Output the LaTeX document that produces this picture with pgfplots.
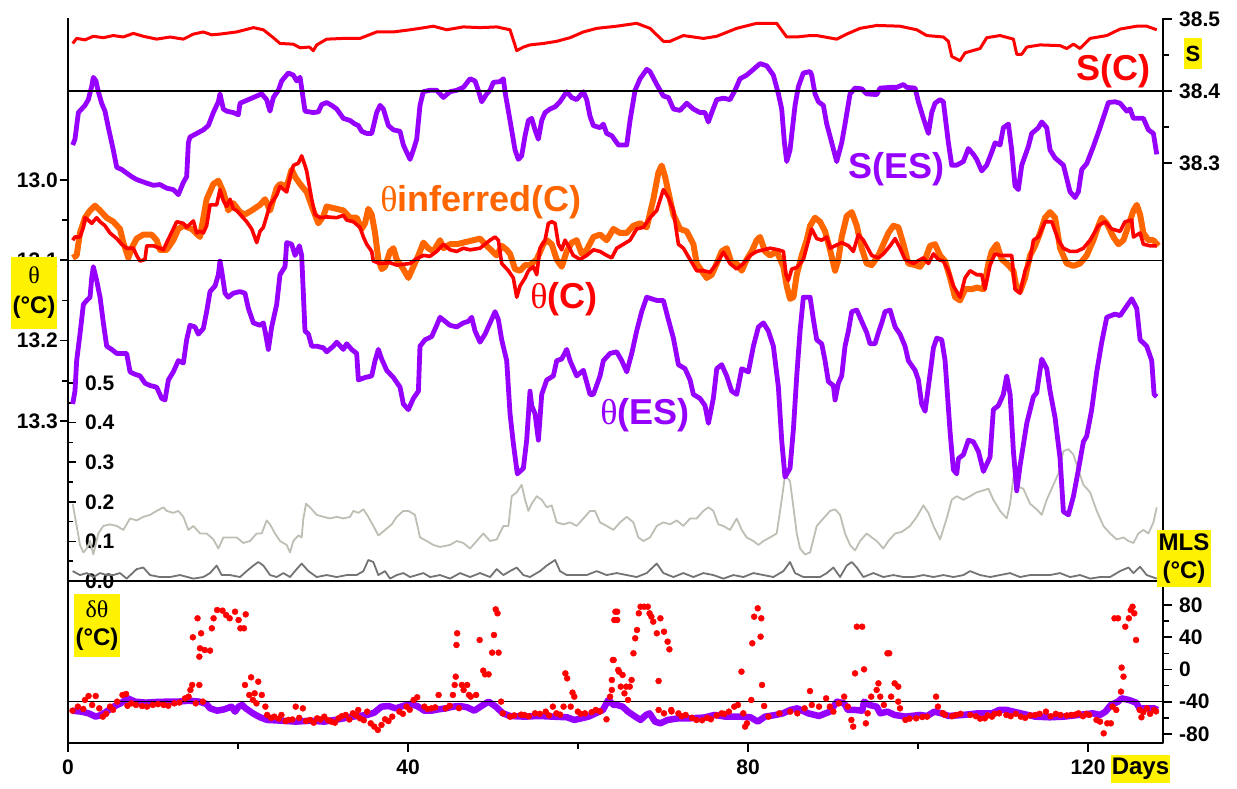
\documentclass[border=0pt]{standalone}
\usepackage{fontspec}
\setmainfont{Liberation Sans}
\newfontfamily\grk{Liberation Serif}
\usepackage{pgfplots}
\pgfplotsset{compat=1.18}
\definecolor{cred}{RGB}{255,0,0}
\definecolor{cpur}{RGB}{150,0,255}
\definecolor{corg}{RGB}{255,102,0}
\definecolor{clgray}{RGB}{190,190,180}
\definecolor{cdgray}{RGB}{115,115,115}
\begin{document}
\begin{tikzpicture}
\useasboundingbox (0,0) rectangle (1237pt,789pt);
\pgfplotsset{
  every non boxed x axis/.style={},
  every non boxed y axis/.style={},
  base/.style={scale only axis, width=1095pt, xmin=0, xmax=128.82,
    tick label style={font=\bfseries\fontsize{21}{21}\selectfont},
    axis line style={-, line width=2pt, black},
    every tick/.style={line width=1.6pt, black},
    every minor tick/.style={line width=1.6pt, black},
    line join=round},
}
% ---------------- MLS axis
\begin{axis}[base, at={(68pt,208pt)}, anchor=south west, height=563pt,
  axis x line=none, axis y line=left, y axis line style={-},
  ymin=0, ymax=1.4217,
  ytick={0,0.1,0.2,0.3,0.4,0.5}, yticklabels={0.0,0.1,0.2,0.3,0.4,0.5},
  minor ytick={0.05,0.15,0.25,0.35,0.45},
  tick align=inside, major tick length=8pt, minor tick length=5pt,
  yticklabel style={anchor=west, inner sep=0pt, xshift=17pt}]
\addplot[clgray, line width=1.8pt] coordinates {
(0.55,0.195) (1.02,0.139) (1.41,0.091) (1.81,0.072) (2.20,0.082) (2.59,0.101) (2.98,0.067) (3.57,0.120) (4.16,0.139) (4.94,0.143) (5.73,0.139) (6.51,0.129) (7.30,0.158) (8.08,0.153) (8.86,0.162) (9.65,0.167) (10.43,0.177) (11.22,0.186) (11.61,0.177) (12.39,0.172) (12.98,0.177) (13.57,0.162) (14.16,0.129) (14.75,0.139) (15.53,0.120) (16.31,0.120) (17.10,0.105) (17.69,0.082) (18.28,0.110) (19.06,0.110) (19.84,0.110) (20.63,0.096) (21.41,0.101) (22.20,0.120) (22.79,0.120) (23.37,0.153) (23.77,0.143) (24.35,0.120) (24.94,0.101) (25.73,0.091) (26.12,0.072) (26.51,0.101) (27.10,0.115) (27.49,0.110) (27.69,0.158) (28.00,0.195) (28.47,0.186) (29.26,0.167) (30.04,0.162) (30.82,0.158) (31.61,0.162) (32.39,0.158) (33.18,0.162) (33.57,0.177) (34.16,0.172) (34.75,0.181) (35.33,0.162) (35.92,0.139) (36.51,0.115) (37.30,0.129) (38.08,0.143) (38.67,0.162) (39.45,0.177) (40.04,0.177) (40.82,0.167) (41.41,0.110) (42.20,0.101) (42.98,0.091) (43.77,0.086)
(44.94,0.091) (45.73,0.101) (46.51,0.096) (47.30,0.082) (48.08,0.101) (48.86,0.120) (49.65,0.101) (50.43,0.105) (51.22,0.139) (51.81,0.139) (52.20,0.214) (52.79,0.224) (53.37,0.243) (53.77,0.205) (54.16,0.177) (54.55,0.195) (55.14,0.214) (55.73,0.205) (56.32,0.186) (56.90,0.191) (57.49,0.148) (58.28,0.143) (59.06,0.148) (59.84,0.139) (60.63,0.158) (61.41,0.177) (62.00,0.177) (62.59,0.148) (63.37,0.139) (64.16,0.129) (64.94,0.148) (65.73,0.162) (66.51,0.148) (67.10,0.110) (67.69,0.101) (68.47,0.110) (69.26,0.139) (70.04,0.148) (70.82,0.143) (71.61,0.153) (72.39,0.139) (73.18,0.158) (73.96,0.158) (74.75,0.177) (75.34,0.186) (75.92,0.177) (76.51,0.143) (77.10,0.139) (77.88,0.129) (78.67,0.158) (79.26,0.129) (79.84,0.110) (80.63,0.101) (81.22,0.091) (81.81,0.101) (82.59,0.110) (83.37,0.120) (83.96,0.205) (84.35,0.267) (84.94,0.252) (85.34,0.186) (85.73,0.120) (86.12,0.082) (86.71,0.067) (87.30,0.072)
(88.08,0.139) (88.86,0.158) (89.65,0.177) (90.24,0.181) (90.83,0.167) (91.41,0.120) (92.00,0.091) (92.59,0.077) (93.18,0.101) (93.96,0.120) (94.55,0.110) (95.14,0.101) (95.92,0.082) (96.51,0.101) (97.30,0.120) (98.08,0.124) (99.06,0.139) (99.85,0.162) (100.63,0.191) (101.22,0.172) (101.81,0.139) (102.59,0.105) (103.37,0.158) (103.96,0.205) (104.55,0.214) (105.34,0.205) (106.12,0.214) (106.90,0.224) (107.69,0.229) (108.28,0.233) (108.86,0.205) (109.65,0.177) (110.43,0.158) (110.83,0.195) (111.22,0.262) (111.80,0.238) (112.39,0.233) (113.18,0.195) (113.96,0.181) (114.55,0.167) (115.14,0.205) (115.92,0.243) (116.51,0.271) (117.10,0.328) (117.69,0.333) (118.28,0.319) (118.86,0.281) (119.45,0.243) (120.24,0.224) (121.02,0.177) (121.81,0.139) (122.59,0.120) (123.37,0.105) (124.16,0.110) (124.75,0.101) (125.34,0.096) (125.92,0.120) (126.51,0.129) (127.10,0.120) (127.69,0.148) (128.08,0.186)};
\addplot[cdgray, line width=1.8pt] coordinates {
(0.55,0.025) (1.41,0.015) (2.20,0.020) (2.98,0.010) (3.77,0.020) (4.55,0.015) (5.33,0.015) (6.12,0.020) (6.90,0.006) (8.08,0.030) (8.86,0.034) (9.65,0.015) (10.82,0.010) (12.00,0.010) (13.18,0.015) (14.75,0.006) (15.92,0.010) (16.71,0.020) (17.49,0.039) (18.08,0.015) (19.06,0.015) (20.24,0.010) (21.02,0.025) (21.81,0.039) (22.39,0.048) (22.98,0.039) (23.77,0.015) (24.55,0.010) (25.33,0.020) (26.12,0.010) (26.90,0.030) (27.49,0.044) (28.28,0.025) (29.26,0.010) (30.43,0.015) (31.61,0.010) (32.79,0.015) (33.96,0.015) (34.75,0.025) (35.33,0.053) (35.92,0.048) (36.51,0.015) (37.30,0.025) (37.88,0.006) (38.67,0.015) (39.45,0.020) (40.24,0.010) (41.02,0.015) (41.81,0.020) (42.59,0.010) (43.77,0.015)
(44.94,0.006) (46.12,0.020) (47.30,0.010) (48.47,0.020) (49.65,0.010) (50.43,0.030) (51.22,0.015) (52.00,0.025) (52.79,0.034) (53.57,0.015) (54.35,0.010) (55.53,0.025) (56.32,0.039) (57.30,0.053) (57.88,0.025) (58.67,0.015) (59.84,0.015) (61.02,0.015) (62.20,0.025) (63.37,0.015) (64.55,0.020) (65.73,0.015) (66.90,0.010) (68.08,0.020) (69.26,0.044) (70.04,0.020) (71.22,0.010) (72.39,0.020) (73.57,0.010) (74.75,0.020) (75.92,0.015) (77.10,0.006) (78.28,0.015) (79.45,0.010) (80.63,0.020) (81.81,0.015) (82.98,0.010) (84.16,0.025) (84.94,0.048) (85.53,0.020) (86.51,0.010)
(88.47,0.010) (89.26,0.020) (90.04,0.034) (90.83,0.010) (91.61,0.039) (92.20,0.048) (92.79,0.034) (93.57,0.010) (94.75,0.020) (95.92,0.010) (97.10,0.015) (98.28,0.010) (99.45,0.010) (100.63,0.015) (101.81,0.010) (102.98,0.015) (104.16,0.010) (105.34,0.015) (106.12,0.025) (107.30,0.015) (108.47,0.010) (109.65,0.015) (110.83,0.020) (112.00,0.010) (113.18,0.015) (114.36,0.015) (115.53,0.015) (116.71,0.020) (117.88,0.010) (119.06,0.015) (120.24,0.006) (121.41,0.010) (122.59,0.010) (123.77,0.025) (124.75,0.034) (125.34,0.020) (126.12,0.036) (126.90,0.015) (128.08,0.006)};
\end{axis}
% ---------------- theta axis
\begin{axis}[base, at={(68pt,208pt)}, anchor=south west, height=563pt,
  axis x line=none, axis y line=left, y axis line style={-},
  y dir=reverse, ymin=12.7983, ymax=13.4994,
  ytick={13.0,13.1,13.2,13.3}, yticklabels={13.0,13.1,13.2,13.3},
  minor ytick={13.05,13.15,13.25},
  tick align=outside, major tick length=8pt, minor tick length=6pt,
  yticklabel style={anchor=east, inner sep=0pt, xshift=-2pt}]
\addplot[corg, line width=6pt] coordinates {
(0.55,13.097) (1.02,13.094) (1.41,13.066) (2.00,13.047) (2.59,13.038) (3.18,13.032) (3.77,13.038) (4.55,13.047) (5.33,13.052) (6.12,13.061) (6.51,13.078) (7.10,13.097) (7.49,13.085) (8.08,13.073) (8.86,13.068) (9.84,13.068) (10.43,13.075) (10.82,13.087) (11.61,13.087) (12.39,13.075) (12.98,13.061) (13.57,13.057) (14.55,13.061) (15.53,13.071) (16.31,13.024) (17.10,13.005) (17.69,13.001) (18.28,13.015) (18.86,13.038) (19.45,13.029) (20.24,13.040) (20.82,13.043) (21.61,13.038) (22.59,13.031) (23.18,13.024) (23.77,13.038) (24.55,13.010) (24.94,13.005) (25.73,13.008) (26.31,12.987) (26.71,12.996) (27.30,13.005) (28.08,13.015) (28.86,13.038) (29.45,13.054) (30.04,13.045) (30.43,13.033) (31.61,13.036) (32.39,13.038) (33.18,13.047) (33.96,13.047) (34.55,13.061) (34.94,13.054) (35.33,13.036) (35.73,13.043) (36.12,13.066) (36.51,13.099) (36.90,13.111) (37.30,13.108) (37.88,13.089) (38.28,13.085) (38.67,13.099) (39.45,13.111) (40.04,13.122) (40.63,13.108) (41.22,13.094) (41.81,13.078) (42.39,13.085) (42.98,13.089) (43.77,13.075)
(44.16,13.085) (44.94,13.080) (45.73,13.080) (46.51,13.078) (47.69,13.075) (48.47,13.073) (49.26,13.082) (50.43,13.094) (51.02,13.082) (51.61,13.087) (52.00,13.092) (52.59,13.111) (53.18,13.113) (53.77,13.106) (54.35,13.106) (55.14,13.099) (55.92,13.080) (56.32,13.075) (56.90,13.080) (57.49,13.099) (58.08,13.108) (58.67,13.089) (59.26,13.078) (59.84,13.075) (60.43,13.092) (61.02,13.087) (61.81,13.071) (62.59,13.068) (63.37,13.075) (64.16,13.061) (64.94,13.066) (65.73,13.066) (66.51,13.057) (67.30,13.054) (68.08,13.059) (68.86,13.024) (69.45,12.991) (69.84,12.982) (70.24,12.996) (70.63,13.015) (71.22,13.043) (72.00,13.061) (72.79,13.064) (73.57,13.080) (73.96,13.104) (74.55,13.113) (75.14,13.122) (75.73,13.118) (76.32,13.104) (76.90,13.089) (77.49,13.085) (78.08,13.104) (78.67,13.104) (79.26,13.113) (79.84,13.099) (80.43,13.089) (81.02,13.075) (81.41,13.071) (82.00,13.089) (82.59,13.094) (83.37,13.089) (84.16,13.108) (84.55,13.132) (84.94,13.148) (85.34,13.146) (85.73,13.118) (86.32,13.094) (86.90,13.075)
(87.30,13.057) (87.88,13.047) (88.47,13.052) (89.06,13.064) (89.65,13.087) (90.24,13.113) (90.63,13.099) (91.02,13.071) (91.61,13.045) (92.20,13.040) (92.79,13.057) (93.37,13.085) (93.96,13.104) (94.55,13.106) (95.34,13.094) (95.92,13.080) (96.51,13.066) (97.10,13.057) (97.69,13.059) (98.28,13.080) (98.86,13.104) (99.65,13.106) (100.24,13.108) (100.83,13.099) (101.41,13.082) (102.00,13.080) (102.59,13.094) (103.18,13.101) (103.77,13.122) (104.36,13.146) (104.94,13.150) (105.53,13.136) (106.32,13.136) (106.90,13.134) (107.69,13.136) (108.28,13.104) (108.67,13.089) (109.26,13.080) (109.85,13.099) (110.43,13.104) (111.22,13.113) (111.61,13.136) (112.00,13.139) (112.59,13.122) (113.18,13.094) (113.77,13.082) (114.36,13.066) (114.94,13.047) (115.53,13.040) (116.12,13.047) (116.71,13.085) (117.49,13.104) (118.28,13.107) (119.06,13.104) (119.84,13.094) (120.63,13.075) (121.22,13.057) (121.61,13.047) (122.20,13.054) (122.98,13.071) (123.57,13.080) (124.16,13.075) (124.75,13.057) (125.34,13.038) (125.73,13.031) (126.12,13.043) (126.51,13.066) (127.10,13.075) (127.69,13.075) (128.28,13.082)};
\addplot[cred, line width=3.6pt] coordinates {
(0.55,13.075) (0.82,13.071) (1.41,13.071) (1.81,13.059) (2.00,13.047) (2.39,13.050) (2.79,13.054) (3.37,13.047) (3.77,13.052) (4.35,13.057) (4.94,13.066) (5.73,13.073) (6.31,13.080) (6.90,13.085) (7.69,13.085) (8.08,13.094) (8.47,13.101) (9.06,13.099) (9.26,13.082) (10.04,13.082) (10.82,13.085) (11.22,13.087) (11.61,13.078) (12.39,13.061) (12.79,13.052) (13.57,13.054) (13.96,13.059) (14.75,13.051) (15.14,13.066) (15.53,13.064) (15.92,13.066) (16.31,13.057) (16.71,13.031) (17.49,13.031) (17.88,13.012) (18.28,13.026) (18.67,13.033) (19.06,13.024) (19.45,13.036) (19.84,13.038) (20.43,13.045) (21.02,13.052) (21.61,13.061) (22.20,13.078) (22.59,13.064) (22.98,13.059) (23.77,13.031) (24.55,13.019) (24.94,13.008) (25.73,13.015) (26.12,12.996) (26.51,12.982) (27.10,12.979) (27.49,12.970) (27.88,12.982) (28.08,12.989) (28.28,13.001) (28.67,13.024) (29.06,13.043) (29.65,13.047) (30.43,13.046) (31.61,13.047) (32.39,13.044) (32.79,13.050) (33.57,13.052) (34.35,13.059) (34.75,13.071) (35.14,13.080) (35.73,13.089) (35.92,13.101) (36.71,13.104) (37.88,13.103) (38.67,13.106) (40.24,13.104) (41.02,13.098) (41.81,13.094) (42.59,13.095) (43.37,13.089)
(44.16,13.080) (44.94,13.087) (45.73,13.089) (46.51,13.085) (47.30,13.087) (48.47,13.085) (49.06,13.080) (49.65,13.075) (50.24,13.071) (50.63,13.075) (51.02,13.104) (51.81,13.113) (52.39,13.122) (52.79,13.146) (53.18,13.132) (53.77,13.122) (54.16,13.113) (54.75,13.108) (55.14,13.118) (55.53,13.085) (56.12,13.075) (56.51,13.054) (56.90,13.052) (57.30,13.054) (57.69,13.080) (58.08,13.087) (58.47,13.075) (58.86,13.082) (59.45,13.094) (60.24,13.099) (61.02,13.094) (61.81,13.087) (62.59,13.089) (63.37,13.094) (63.96,13.097) (64.55,13.085) (65.34,13.080) (66.12,13.075) (66.90,13.061) (67.69,13.059) (68.47,13.047) (69.26,13.038) (70.04,13.012) (70.63,13.022) (71.22,13.038) (71.61,13.066) (71.81,13.080) (72.39,13.085) (73.18,13.099) (73.96,13.113) (74.75,13.113) (75.53,13.115) (76.32,13.104) (77.10,13.090) (77.88,13.104) (78.67,13.111) (79.45,13.104) (80.24,13.094) (81.02,13.089) (81.81,13.087) (82.59,13.085) (83.57,13.087) (84.16,13.089) (84.47,13.118) (84.75,13.125) (85.14,13.111) (85.73,13.109) (86.51,13.099) (87.30,13.068)
(87.49,13.061) (88.08,13.073) (88.67,13.075) (89.26,13.071) (89.65,13.085) (90.24,13.082) (91.02,13.078) (91.81,13.082) (92.39,13.089) (92.98,13.068) (93.57,13.075) (94.55,13.094) (95.34,13.097) (95.92,13.092) (96.71,13.082) (97.30,13.073) (97.88,13.085) (98.47,13.099) (99.45,13.104) (100.63,13.097) (101.22,13.104) (101.81,13.092) (102.39,13.099) (102.98,13.101) (103.57,13.113) (104.16,13.132) (104.94,13.146) (105.53,13.122) (106.12,13.113) (106.90,13.118) (107.49,13.118) (107.88,13.136) (108.47,13.106) (109.06,13.092) (109.65,13.094) (111.02,13.094) (111.41,13.136) (112.00,13.141) (112.59,13.113) (113.18,13.099) (113.57,13.075) (114.16,13.071) (114.94,13.052) (115.73,13.052) (116.51,13.075) (117.10,13.085) (117.88,13.089) (118.67,13.089) (119.45,13.085) (120.24,13.075) (121.22,13.057) (122.00,13.052) (122.79,13.061) (123.77,13.064) (124.35,13.052) (125.14,13.050) (125.34,13.071) (126.12,13.066) (126.51,13.080) (127.30,13.082) (128.08,13.082)};
\addplot[cpur, line width=4.8pt] coordinates {
(0.55,13.279) (0.82,13.263) (1.02,13.225) (1.41,13.192) (1.81,13.155) (2.20,13.150) (2.59,13.146) (2.79,13.122) (2.98,13.108) (3.37,13.125) (3.77,13.146) (4.16,13.178) (4.55,13.207) (5.14,13.211) (5.73,13.216) (6.90,13.216) (7.30,13.239) (7.88,13.242) (8.47,13.244) (9.06,13.253) (9.65,13.256) (10.43,13.258) (11.02,13.272) (11.41,13.274) (11.81,13.249) (12.39,13.239) (12.98,13.225) (13.57,13.228) (13.96,13.199) (14.35,13.181) (14.94,13.183) (15.33,13.192) (15.92,13.185) (16.31,13.164) (16.71,13.139) (17.30,13.132) (17.69,13.118) (17.88,13.101) (18.08,13.113) (18.47,13.141) (18.86,13.146) (19.45,13.141) (20.24,13.139) (20.82,13.141) (21.22,13.160) (21.81,13.178) (22.59,13.181) (22.98,13.178) (23.18,13.188) (23.57,13.211) (23.96,13.183) (24.55,13.155) (24.94,13.118) (25.53,13.108) (25.73,13.078) (26.31,13.080) (26.71,13.094) (27.22,13.082) (27.49,13.094) (27.88,13.188) (28.28,13.192) (28.67,13.207) (29.26,13.207) (30.04,13.209) (30.43,13.214) (31.22,13.207) (31.61,13.202) (32.39,13.211) (32.79,13.204) (33.37,13.211) (33.96,13.216) (34.16,13.249) (34.94,13.246) (35.73,13.244) (36.12,13.225) (36.51,13.211) (36.90,13.223) (37.49,13.237) (38.28,13.246) (39.06,13.258) (39.45,13.279) (40.04,13.286) (40.63,13.272) (41.22,13.263) (41.41,13.207) (42.00,13.199) (42.79,13.195) (43.37,13.181) (43.77,13.171)
(44.35,13.176) (44.94,13.181) (45.73,13.183) (46.51,13.178) (47.10,13.176) (47.49,13.171) (47.88,13.188) (48.47,13.202) (49.06,13.192) (49.65,13.178) (50.24,13.164) (50.63,13.174) (51.02,13.199) (51.61,13.225) (52.00,13.291) (52.39,13.328) (52.86,13.366) (53.57,13.359) (53.96,13.324) (54.35,13.263) (54.55,13.281) (54.94,13.291) (55.34,13.324) (55.73,13.267) (56.32,13.249) (57.10,13.244) (57.49,13.225) (58.08,13.223) (58.67,13.211) (59.06,13.225) (59.84,13.244) (60.63,13.237) (61.41,13.267) (61.81,13.267) (62.59,13.244) (62.98,13.225) (63.77,13.216) (64.55,13.214) (65.14,13.225) (65.73,13.239) (66.32,13.216) (66.90,13.188) (67.49,13.164) (68.08,13.146) (68.67,13.148) (69.26,13.150) (70.04,13.150) (70.63,13.174) (71.22,13.197) (71.81,13.230) (72.59,13.235) (73.18,13.249) (73.57,13.267) (74.35,13.272) (74.94,13.281) (75.34,13.303) (75.92,13.272) (76.32,13.235) (76.90,13.230) (77.49,13.244) (78.08,13.263) (78.67,13.267) (79.26,13.235) (80.04,13.239) (80.63,13.207) (81.22,13.183) (81.81,13.178) (82.39,13.188) (82.98,13.207) (83.57,13.258) (83.96,13.324) (84.35,13.370) (84.94,13.359) (85.34,13.310) (85.73,13.244) (86.12,13.188) (86.51,13.146) (87.30,13.146)
(87.69,13.174) (88.08,13.199) (88.67,13.204) (89.06,13.225) (89.45,13.251) (90.04,13.256) (90.24,13.274) (90.63,13.253) (91.02,13.244) (91.41,13.207) (91.81,13.188) (92.20,13.164) (92.79,13.162) (93.37,13.176) (93.96,13.190) (94.35,13.204) (94.94,13.204) (95.34,13.190) (95.73,13.178) (96.12,13.164) (96.71,13.162) (97.30,13.183) (97.88,13.192) (98.47,13.207) (98.86,13.225) (99.65,13.237) (100.04,13.249) (100.43,13.279) (100.83,13.288) (101.41,13.242) (101.81,13.209) (102.20,13.197) (102.79,13.199) (103.18,13.225) (103.77,13.314) (104.16,13.361) (104.55,13.366) (104.75,13.347) (105.34,13.342) (105.92,13.324) (106.51,13.326) (107.10,13.338) (107.69,13.363) (108.08,13.354) (108.47,13.345) (108.86,13.286) (109.45,13.281) (110.04,13.267) (110.43,13.244) (110.83,13.267) (111.22,13.338) (111.61,13.387) (112.00,13.356) (112.79,13.303) (113.57,13.270) (113.96,13.265) (114.55,13.223) (115.14,13.235) (115.53,13.263) (116.12,13.296) (116.71,13.347) (117.10,13.413) (117.69,13.417) (118.28,13.394) (118.86,13.361) (119.45,13.326) (119.84,13.319) (120.43,13.286) (121.02,13.239) (121.61,13.202) (122.20,13.171) (123.18,13.167) (123.77,13.169) (124.35,13.160) (125.14,13.148) (125.73,13.160) (126.12,13.199) (126.90,13.207) (127.49,13.225) (127.77,13.267) (128.08,13.270)};
\addplot[black, line width=1.4pt] coordinates {(0,13.1) (128.82,13.1)};
\end{axis}
% ---------------- S axis
\begin{axis}[base, at={(68pt,208pt)}, anchor=south west, height=563pt,
  axis x line=none, axis y line=right, y axis line style={-},
  ymin=37.7194, ymax=38.5014,
  ytick={38.3,38.4,38.5}, yticklabels={38.3,38.4,38.5},
  minor ytick={38.35,38.45},
  tick align=outside, major tick length=9pt, minor tick length=6pt,
  yticklabel style={anchor=west, inner sep=0pt, xshift=7pt}]
\addplot[cred, line width=3pt] coordinates {
(0.55,38.466) (1.02,38.473) (2.0,38.471) (2.98,38.476) (4.16,38.474) (5.33,38.477) (6.5,38.475) (7.69,38.480) (8.86,38.476) (10.43,38.472) (12.0,38.475) (13.57,38.472) (14.75,38.479) (15.92,38.482) (16.9,38.478) (17.88,38.479) (19.84,38.482) (21.81,38.488) (22.98,38.485) (24.16,38.474) (24.94,38.466) (26.51,38.465) (27.3,38.460) (28.4,38.461) (28.86,38.456) (29.26,38.464) (30.43,38.472) (32.39,38.473) (34.35,38.473) (36.31,38.482) (38.28,38.482) (40.24,38.485) (41.41,38.487) (42.98,38.490) (44.55,38.485) (46.51,38.489) (48.47,38.488) (50.43,38.489) (52.0,38.485) (52.79,38.456) (53.57,38.461) (54.35,38.464) (55.92,38.466) (57.49,38.469) (59.06,38.474) (60.63,38.482) (62.2,38.487) (64.55,38.490) (66.9,38.494) (68.47,38.487) (70.04,38.469) (70.82,38.469) (72.39,38.477) (74.75,38.473) (76.32,38.476) (78.67,38.487) (81.02,38.494) (83.37,38.494) (84.55,38.475) (85.73,38.475) (87.3,38.477) (88.08,38.477) (90.43,38.472) (91.61,38.479) (93.18,38.487) (95.14,38.491) (97.88,38.490) (99.85,38.485) (101.02,38.477) (102.98,38.475) (103.57,38.469) (103.96,38.448) (104.94,38.442) (105.53,38.453) (107.3,38.459) (108.08,38.474) (109.65,38.477) (111.22,38.472) (111.61,38.451) (112.2,38.451) (112.79,38.461) (114.36,38.464) (116.71,38.463) (117.49,38.459) (118.28,38.465) (119.06,38.459) (120.24,38.473) (122.2,38.477) (123.77,38.486) (125.73,38.490) (126.9,38.490) (128.08,38.485)};
\addplot[cpur, line width=4.8pt] coordinates {
(0.55,38.325) (0.82,38.333) (1.22,38.370) (1.61,38.375) (2.00,38.380) (2.39,38.388) (2.78,38.406) (2.98,38.419) (3.29,38.414) (3.57,38.399) (3.96,38.383) (4.35,38.372) (4.75,38.349) (5.33,38.318) (5.73,38.294) (6.31,38.291) (6.90,38.286) (7.49,38.281) (8.08,38.277) (9.25,38.272) (10.04,38.269) (10.82,38.270) (11.61,38.265) (12.39,38.263) (12.98,38.256) (13.57,38.273) (13.96,38.281) (14.16,38.328) (14.35,38.336) (15.14,38.341) (15.92,38.346) (16.51,38.352) (17.10,38.370) (17.69,38.385) (17.88,38.396) (18.27,38.375) (18.67,38.372) (19.45,38.370) (20.04,38.367) (20.24,38.383) (20.63,38.385) (21.41,38.389) (22.20,38.393) (22.78,38.396) (23.37,38.388) (23.76,38.372) (24.16,38.391) (24.75,38.401) (25.14,38.414) (25.92,38.425) (26.51,38.422) (26.90,38.414) (27.30,38.419) (27.49,38.404) (27.88,38.372) (28.86,38.370) (29.45,38.371) (29.84,38.381) (30.43,38.384) (31.02,38.380) (31.61,38.375) (32.39,38.362) (33.18,38.359) (33.77,38.354) (34.16,38.352) (34.55,38.344) (35.14,38.341) (35.73,38.341) (36.31,38.370) (36.71,38.380) (37.10,38.375) (37.69,38.352) (38.28,38.346) (39.06,38.344) (39.45,38.325) (39.84,38.315) (40.24,38.305) (40.63,38.318) (41.02,38.333) (41.41,38.380) (41.80,38.399) (42.59,38.401) (43.37,38.401)
(44.16,38.391) (44.94,38.399) (45.73,38.401) (46.51,38.405) (47.30,38.417) (47.88,38.414) (48.27,38.401) (48.67,38.385) (49.26,38.396) (49.65,38.401) (50.04,38.412) (50.82,38.413) (51.22,38.417) (51.41,38.399) (52.00,38.359) (52.59,38.318) (52.98,38.305) (53.37,38.310) (53.77,38.338) (54.16,38.359) (54.55,38.362) (54.94,38.346) (55.33,38.333) (55.73,38.359) (56.12,38.370) (56.71,38.375) (57.30,38.378) (57.88,38.385) (58.67,38.399) (59.25,38.391) (59.84,38.388) (60.63,38.399) (61.02,38.388) (61.41,38.365) (61.80,38.352) (62.59,38.349) (62.98,38.354) (63.37,38.341) (63.96,38.338) (64.75,38.325) (65.73,38.325) (66.12,38.359) (66.71,38.401) (67.30,38.417) (68.08,38.430) (68.47,38.427) (69.26,38.409) (70.04,38.393) (70.63,38.391) (71.22,38.375) (72.00,38.373) (72.79,38.383) (73.57,38.375) (74.35,38.370) (74.94,38.370) (75.33,38.357) (75.73,38.370) (76.32,38.388) (77.10,38.390) (77.88,38.388) (78.47,38.401) (79.06,38.417) (79.84,38.422) (80.63,38.430) (81.41,38.438) (82.20,38.435) (82.98,38.422) (83.57,38.396) (83.96,38.375) (84.28,38.328) (84.55,38.302) (84.94,38.318) (85.53,38.380) (85.92,38.406) (86.51,38.425) (87.30,38.427)
(87.49,38.422) (87.88,38.396) (88.28,38.385) (88.86,38.380) (89.26,38.354) (89.85,38.328) (90.43,38.302) (91.02,38.328) (91.41,38.354) (92.00,38.396) (92.59,38.404) (93.37,38.403) (93.96,38.396) (95.14,38.395) (95.53,38.404) (96.71,38.405) (97.49,38.405) (98.28,38.409) (98.67,38.405) (99.65,38.404) (100.04,38.385) (100.63,38.362) (101.22,38.341) (101.61,38.370) (102.00,38.383) (102.59,38.388) (102.98,38.385) (103.57,38.328) (103.96,38.297) (104.55,38.297) (105.33,38.302) (105.92,38.320) (106.51,38.312) (106.90,38.305) (107.49,38.289) (108.08,38.297) (108.67,38.315) (109.06,38.328) (109.65,38.325) (110.04,38.349) (110.63,38.354) (111.02,38.318) (111.41,38.268) (111.80,38.263) (112.20,38.297) (112.98,38.323) (113.37,38.341) (114.16,38.349) (114.55,38.357) (115.14,38.349) (115.53,38.318) (116.12,38.307) (117.10,38.297) (117.88,38.260) (118.47,38.252) (118.86,38.260) (119.26,38.291) (119.84,38.299) (120.63,38.323) (121.41,38.349) (122.00,38.370) (122.39,38.384) (123.18,38.385) (123.77,38.383) (124.55,38.372) (124.94,38.375) (125.33,38.362) (126.51,38.362) (127.10,38.346) (127.69,38.341) (128.08,38.312)};
\addplot[black, line width=1.4pt] coordinates {(0,38.4) (128.82,38.4)};
\end{axis}
% ---------------- delta theta panel
\begin{axis}[base, at={(68pt,46pt)}, anchor=south west, height=162pt,
  ymin=-91.2, ymax=109.8,
  xtick={0,40,80,120}, xticklabels={0,40,80,120}, minor xtick={20,60,100},
  ytick={-80,-40,0,40,80}, yticklabels={-80,-40,0,40,80},
  minor ytick={-60,-20,20,60},
  xtick pos=left, ytick pos=right, yticklabel pos=right,
  tick align=outside, major tick length=9pt, minor tick length=6pt,
  yticklabel style={anchor=west, inner sep=0pt, xshift=7pt},
  xticklabel style={anchor=north, inner sep=0pt, yshift=-8pt}]
\addplot[cred, only marks, mark=*, mark size=3pt, mark options={draw=none, fill=cred}] coordinates {
(0.53,-51.1) (1.16,-46.1) (2.0,-37.8) (2.42,-32.9) (3.26,-32.9) (2.84,-44.0) (3.68,-48.2) (4.10,-58.5) (4.94,-46.1) (5.78,-39.9) (6.41,-31.6) (6.83,-30.4) (7.46,-42.0) (8.72,-45.3) (9.98,-44.0) (11.24,-44.0) (12.51,-42.0) (13.77,-35.8) (14.19,-33.7) (15.03,-42.0) (15.87,-39.9) (14.40,-25.4) (14.61,-19.2) (15.45,-19.2) (14.69,39.9) (15.24,63.5) (15.66,44.9) (15.53,26.3) (15.45,15.9) (16.08,24.2) (16.71,23.4) (16.92,51.1) (17.13,63.5) (17.55,73.8) (18.18,73.0) (18.60,67.6) (19.02,63.5) (19.65,71.7) (20.07,61.4) (20.28,51.1) (20.70,51.1) (20.91,68.4) (21.54,-9.7) (20.82,-19.2) (21.33,-31.6) (21.96,-29.6) (22.38,-15.1) (22.80,-31.6) (21.75,-37.8) (22.17,-42.0) (23.22,-46.1) (23.43,-56.4) (24.27,-58.5) (25.11,-56.4) (25.95,-62.6) (26.79,-46.1) (27.63,-48.2) (28.47,-62.6) (29.31,-60.6) (30.15,-58.5) (30.99,-64.7) (31.83,-60.6) (32.67,-56.4) (33.51,-54.4) (34.14,-50.2) (34.35,-60.6) (35.19,-52.3) (35.61,-66.8) (36.03,-70.9) (36.45,-75.0) (36.88,-68.8) (37.30,-61.8) (38.14,-58.5) (38.98,-52.3) (39.82,-46.1) (40.66,-37.8) (41.08,-34.5) (41.92,-46.1) (42.76,-48.2) (43.60,-31.6) (44.44,-48.2) (45.28,-31.6) (45.49,-19.2) (45.61,-8.9) (45.70,30.4) (45.78,44.9) (46.33,-19.2) (46.54,-25.4) (46.96,-19.2) (47.17,-31.6) (47.38,-33.7) (48.01,-31.6) (48.43,36.6) (48.85,-1.4) (49.06,-6.0) (49.48,-6.0) (49.90,20.9) (50.11,42.8) (50.32,74.6) (50.53,69.7) (50.66,20.9) (50.95,-39.9) (51.16,-54.4) (52.0,-58.5) (53.68,-56.4) (54.94,-54.4) (56.20,-52.3) (57.04,-46.1) (57.46,-54.4) (58.30,-46.1) (58.51,-4.8) (58.72,-11.0) (59.14,-46.1) (59.35,-28.7) (59.56,-33.7) (59.98,-52.3) (60.82,-54.4) (62.09,-50.2) (63.35,-61.8) (63.77,-33.7) (63.98,-13.0) (64.19,11.8) (64.40,71.7) (64.61,61.4) (64.73,-0.6)
(1.8,-49) (4.5,-55) (5.3,-50) (7.0,-45) (8.0,-44) (9.3,-46) (10.6,-43) (11.8,-45) (13.1,-41) (23.9,-60) (24.8,-61) (25.6,-64) (26.4,-62) (27.2,-60) (28.0,-64) (28.9,-66) (29.7,-62) (30.6,-63) (31.4,-66) (32.2,-58) (33.1,-62) (33.9,-57) (34.8,-63) (37.7,-64) (39.4,-55) (40.2,-50) (42.3,-49) (43.2,-47) (44.9,-45) (46.0,-48) (52.5,-57) (53.3,-56) (54.2,-58) (55.5,-55) (56.6,-57) (57.9,-56) (60.3,-55) (61.6,-53) (62.6,-52)
(63.97,-25.4) (64.10,11.8) (64.27,61.4) (64.61,71.7) (64.82,-2.7) (65.24,-6.8) (65.03,-21.3) (65.46,-29.6) (65.67,-21.3) (66.09,-21.3) (66.30,-13.0) (65.88,-37.8) (66.52,20.1) (66.73,38.7) (66.94,49.0) (67.15,69.7) (67.36,77.9) (67.79,77.9) (68.21,77.9) (68.42,69.7) (68.63,65.5) (68.85,59.3) (69.27,44.9) (69.48,-14.3) (69.69,63.5) (70.12,46.9) (70.54,34.5) (70.75,25.0) (69.48,-50.2) (70.12,-54.4) (70.97,-50.2) (71.81,-54.4) (72.66,-56.4) (73.93,-62.6) (75.63,-61.8) (76.90,-54.4) (77.75,-52.3) (78.38,-46.1) (78.81,-44.0) (79.23,-2.7) (79.44,-54.4) (79.66,-70.9) (79.87,-66.8) (80.38,-37.8) (80.50,32.5) (80.72,65.5) (81.14,75.9) (81.56,63.5) (81.48,40.7) (81.65,-19.2) (81.90,-45.3) (82.41,-58.5) (83.68,-54.4) (84.96,-52.3) (85.80,-54.4) (86.65,-48.2) (87.29,-26.7) (87.50,-44.0) (88.35,-46.1) (89.19,-35.8) (89.62,-46.1) (90.04,-52.3) (90.68,-42.0) (91.31,-33.7) (91.74,-46.1) (92.16,-62.6) (92.37,-70.9) (92.59,-4.8) (92.80,53.1) (93.43,53.1) (93.65,0.2) (93.86,-66.8) (94.07,-54.4) (94.49,-33.7) (95.13,-25.4) (95.34,-17.2) (95.55,-33.7) (95.98,-44.0) (96.40,20.1) (96.61,20.1) (96.83,-33.7) (97.25,-17.2) (97.67,-21.3) (97.67,-39.9) (97.88,-48.2) (98.52,-62.6) (99.79,-60.6) (101.06,-58.5) (102.12,-33.7) (102.34,-46.1) (103.18,-56.4) (104.46,-56.4) (106.15,-56.4) (107.85,-60.6) (108.69,-58.5) (109.54,-54.4) (110.39,-56.4) (112.09,-58.5) (113.78,-56.4) (115.05,-52.3) (116.75,-56.4) (118.02,-56.4) (118.87,-54.4) (120.14,-56.4) (120.99,-62.6) (121.41,-64.7) (121.84,-79.2) (122.26,-66.8) (122.68,-66.8) (122.89,-46.1) (123.32,-50.2) (123.11,63.5) (123.53,63.5) (123.87,-27.5) (123.95,2.3) (124.17,-8.9) (124.38,53.1) (124.80,63.5) (125.02,73.8) (125.23,77.9) (125.44,69.7) (125.65,36.6) (126.07,-50.2) (126.28,-59.3) (126.92,-48.2) (127.77,-50.2)
(71.0,-52) (72.2,-58) (73.4,-60) (74.6,-63) (75.2,-60) (76.3,-57) (77.2,-55) (99.0,-61) (100.5,-59) (102.9,-54) (104.0,-58) (105.0,-55) (106.8,-58) (107.3,-61) (108.2,-57) (109.0,-55) (110.9,-58) (111.5,-55) (112.6,-60) (113.2,-57) (114.3,-55) (115.6,-58) (116.2,-55) (117.5,-57) (118.5,-56) (119.4,-58) (119.8,-55) (126.5,-53) (127.3,-55) (128.0,-52)};
\addplot[cpur, line width=6.5pt] coordinates {
(0.53,-51.1) (1.58,-52.3) (2.42,-54.4) (3.26,-58.5) (3.89,-56.4) (4.52,-52.3) (5.36,-46.1) (6.20,-42.0) (7.04,-35.8) (7.88,-39.9) (9.14,-41.1) (10.40,-40.3) (11.67,-39.9) (12.93,-39.9) (14.19,-38.7) (15.45,-39.9) (16.29,-42.8) (16.71,-48.2) (17.55,-51.1) (18.39,-49.4) (19.23,-46.1) (19.65,-52.3) (20.07,-46.1) (20.49,-44.0) (20.91,-48.2) (21.75,-54.4) (22.59,-59.3) (23.43,-62.6) (25.11,-63.5) (26.79,-64.7) (28.47,-63.5) (30.15,-64.7) (31.83,-61.8) (33.51,-58.5) (35.19,-56.4) (36.03,-53.5) (36.88,-46.1) (37.72,-45.3) (38.56,-48.2) (39.40,-45.3) (40.24,-42.8) (41.08,-45.3) (41.92,-51.1) (42.76,-51.1) (43.60,-49.4) (44.44,-48.2) (45.28,-46.1) (46.12,-45.3) (46.96,-46.9) (47.80,-51.1) (48.64,-45.3) (49.48,-39.9) (50.32,-46.1) (51.16,-54.4) (52.00,-57.7) (53.68,-58.5) (55.36,-57.7) (57.04,-58.5) (58.72,-59.3) (59.56,-62.6) (60.40,-60.6) (61.24,-58.5) (62.09,-54.4) (62.93,-50.2) (63.56,-37.8) (64.19,-44.0)
(64.61,-44.0) (65.24,-46.1) (65.88,-52.3) (66.73,-58.5) (67.36,-62.6) (68.0,-56.4) (68.42,-54.4) (69.06,-64.7) (69.69,-66.8) (70.54,-62.6) (71.81,-60.6) (73.09,-60.6) (74.78,-59.7) (76.05,-56.4) (77.33,-58.5) (79.02,-58.5) (80.29,-59.3) (81.14,-64.7) (81.99,-58.5) (83.26,-56.4) (84.11,-54.4) (84.96,-50.2) (85.80,-48.2) (87.08,-54.4) (88.35,-57.7) (89.62,-52.3) (90.47,-39.9) (91.31,-42.0) (91.74,-50.2) (92.59,-50.2) (93.43,-51.1) (93.65,-39.9) (94.28,-44.0) (95.13,-46.1) (95.55,-54.4) (96.40,-52.3) (97.25,-56.4) (98.52,-58.5) (100.22,-56.4) (101.06,-57.7) (101.91,-52.3) (102.76,-54.4) (103.61,-57.7) (105.30,-56.4) (107.0,-54.4) (108.69,-54.4) (109.54,-50.2) (110.39,-50.2) (112.09,-54.4) (113.78,-58.5) (115.48,-59.3) (117.17,-58.5) (118.87,-56.4) (120.56,-54.4) (121.41,-56.4) (122.05,-52.3) (122.68,-44.0) (123.53,-39.9) (123.95,-35.8) (124.80,-37.8) (125.65,-41.1) (126.07,-48.2) (126.92,-48.2) (127.77,-48.2) (128.19,-50.2)};
\addplot[black, line width=1.4pt] coordinates {(0,-40) (128.82,-40)};
\end{axis}
% ---------------- labels
\node[text=cred, font=\bfseries\fontsize{36}{36}\selectfont] at (1113pt,718pt) {S(C)};
\node[text=cpur, font=\bfseries\fontsize{36}{36}\selectfont] at (896pt,620pt) {S(ES)};
\node[text=corg, font=\bfseries\fontsize{36}{36}\selectfont] at (481pt,587pt) {{\mdseries\grk θ}inferred(C)};
\node[text=cred, font=\bfseries\fontsize{36}{36}\selectfont] at (564pt,490pt) {{\mdseries\grk θ}(C)};
\node[text=cpur, font=\bfseries\fontsize{36}{36}\selectfont] at (645pt,374pt) {{\mdseries\grk θ}(ES)};
\node[fill=yellow, inner sep=0pt, minimum width=18pt, minimum height=31pt, font=\bfseries\fontsize{22}{22}\selectfont] at (1193pt,735.5pt) {S};
\node[fill=yellow, inner sep=0pt, minimum width=46pt, minimum height=72pt, align=center, font=\bfseries\fontsize{24}{30}\selectfont] at (34pt,496pt) {{\mdseries\grk θ}\\(°C)};
\node[fill=yellow, inner sep=0pt, minimum width=54pt, minimum height=57pt, align=center, font=\bfseries\fontsize{24}{28}\selectfont] at (1184pt,230.5pt) {MLS\\(°C)};
\node[fill=yellow, inner sep=0pt, minimum width=46pt, minimum height=63pt, align=center, font=\bfseries\fontsize{24}{28}\selectfont] at (97pt,163.5pt) {{\mdseries\grk δθ}\\(°C)};
\node[fill=yellow, inner sep=0pt, minimum width=59pt, minimum height=28pt, font=\bfseries\fontsize{24}{24}\selectfont] at (1140.5pt,20pt) {Days};
\end{tikzpicture}
\end{document}
